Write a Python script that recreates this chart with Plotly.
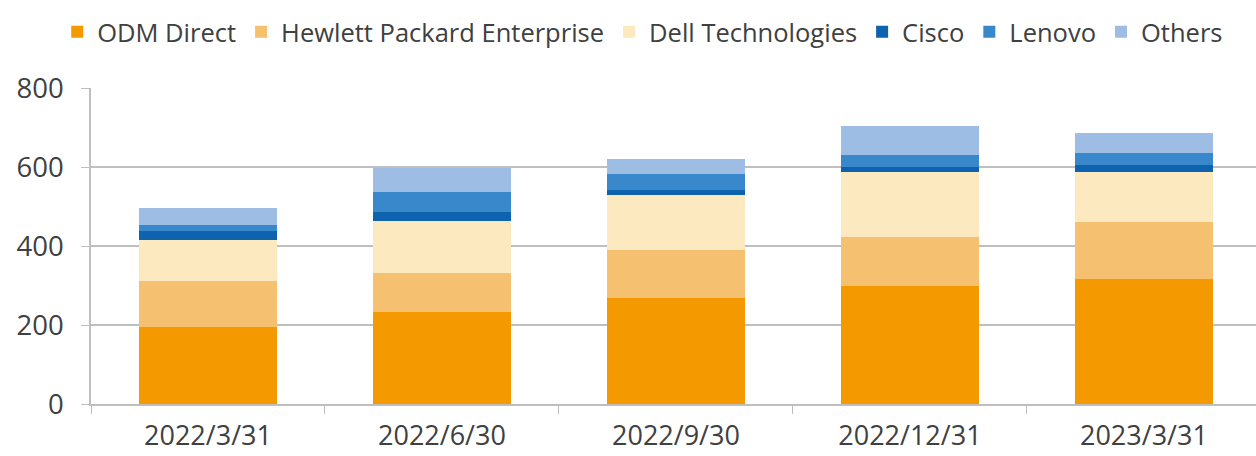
import plotly.graph_objects as go

categories = ["2022/3/31", "2022/6/30", "2022/9/30", "2022/12/31", "2023/3/31"]
odm_direct = [195, 232, 269, 299, 316]
hpe = [117, 100, 120, 123, 145]
dell = [104, 131, 139, 166, 127]
cisco = [21, 23, 14, 12, 17]
lenovo = [17, 51, 40, 30, 31]
others = [42, 61, 38, 73, 49]

series = [
    ("ODM Direct", odm_direct, "#F49A00"),
    ("Hewlett Packard Enterprise", hpe, "#F5C06F"),
    ("Dell Technologies", dell, "#FDE9C0"),
    ("Cisco", cisco, "#0E63AE"),
    ("Lenovo", lenovo, "#3A88CC"),
    ("Others", others, "#9DBDE4"),
]

fig = go.Figure()
for name, vals, color in series:
    fig.add_trace(go.Bar(x=categories, y=vals, name=name,
                         marker=dict(color=color, line=dict(width=0))))

font_family = "Open Sans"
fig.update_layout(
    barmode="stack",
    bargap=0.41,
    width=1256, height=456,
    margin=dict(l=91, r=0, t=88, b=52, pad=0),
    paper_bgcolor="white", plot_bgcolor="white",
    font=dict(family=font_family, color="#404040"),
    legend=dict(orientation="h", x=-0.029, xanchor="left", y=1.177, yanchor="middle",
                traceorder="normal", font=dict(size=25.5, color="#404040"),
                itemwidth=30, tracegroupgap=0),
    xaxis=dict(type="category", range=[-0.5, 4.479], showline=True, linecolor="#BFBFBF",
               linewidth=1.5, ticks="outside", tickson="boundaries", ticklen=8,
               tickcolor="#BFBFBF", tickfont=dict(size=27, color="#404040"),
               ticklabelstandoff=7, showgrid=False, automargin=False),
    yaxis=dict(range=[0, 800], dtick=200, showline=True, linecolor="#BFBFBF", linewidth=1.5,
               ticks="outside", ticklen=8, tickcolor="#BFBFBF", gridcolor="#BFBFBF",
               gridwidth=1.5, tickfont=dict(size=27.5, color="#404040"),
               ticklabelstandoff=12, zeroline=False, automargin=False),
)

fig.write_html("out.html")
